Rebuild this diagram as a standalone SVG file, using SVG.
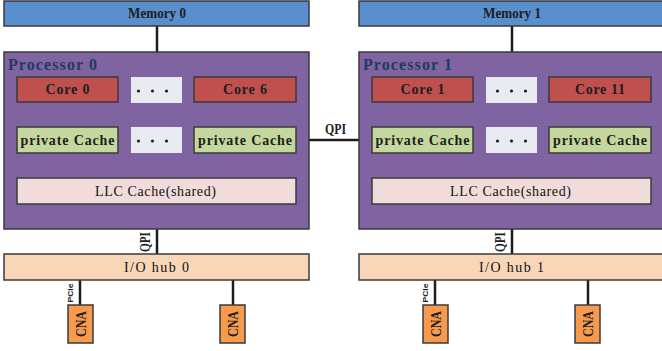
<svg xmlns="http://www.w3.org/2000/svg" width="662" height="351" viewBox="0 0 662 351">
  <style>
    .box { stroke: #3a3a3a; stroke-width: 1.5; }
    .mem { fill: #5a8fcd; }
    .proc { fill: #8064a1; }
    .core { fill: #c0504d; }
    .dots { fill: #e9ebf3; stroke: none; }
    .pc { fill: #c4d79c; }
    .llc { fill: #f2dcdb; }
    .hub { fill: #fad6b8; }
    .cna { fill: #f79a4e; }
    .lbl { font-family: "Liberation Serif", "DejaVu Serif", serif; font-size: 14px; font-weight: bold; fill: #1e1e1e; text-anchor: middle; }
    .reg { font-weight: normal; fill: #111111; }
    .ptitle { font-family: "Liberation Serif", "DejaVu Serif", serif; font-size: 16px; font-weight: bold; fill: #1f3a64; }
    .dot { fill: #1e1e1e; }
    .cnat { font-family: "Liberation Serif", "DejaVu Serif", serif; font-size: 15px; font-weight: bold; fill: #1e1e1e; text-anchor: middle; }
    .small { font-family: "Liberation Sans", "DejaVu Sans", sans-serif; font-size: 8px; font-weight: bold; fill: #1e1e1e; text-anchor: middle; }
    .link { stroke: #1c1c1c; stroke-width: 2.5; fill: none; }
  </style>

  <defs>
    <!-- three-dot ellipsis used in the placeholder boxes -->
    <g id="ellipsis">
      <circle class="dot" cx="-14" cy="0" r="1.6"/>
      <circle class="dot" cx="0" cy="0" r="1.6"/>
      <circle class="dot" cx="14" cy="0" r="1.6"/>
    </g>
  </defs>

  <rect x="0" y="0" width="662" height="351" fill="#ffffff"/>

  <!-- connectors -->
  <g id="connectors">
    <!-- node 0 -->
    <line class="link" x1="157" y1="26" x2="157" y2="52"/>
    <line class="link" x1="68" y1="102" x2="68" y2="127"/>
    <line class="link" x1="246" y1="102" x2="246" y2="127"/>
    <line class="link" x1="68" y1="153" x2="68" y2="178"/>
    <line class="link" x1="246" y1="153" x2="246" y2="178"/>
    <line class="link" x1="157" y1="229" x2="157" y2="254"/>
    <line class="link" x1="80" y1="280" x2="80" y2="305"/>
    <line class="link" x1="233" y1="280" x2="233" y2="305"/>
    <!-- node 1 -->
    <line class="link" x1="512" y1="26" x2="512" y2="52"/>
    <line class="link" x1="423" y1="102" x2="423" y2="127"/>
    <line class="link" x1="601" y1="102" x2="601" y2="127"/>
    <line class="link" x1="423" y1="153" x2="423" y2="178"/>
    <line class="link" x1="601" y1="153" x2="601" y2="178"/>
    <line class="link" x1="512" y1="229" x2="512" y2="254"/>
    <line class="link" x1="435" y1="280" x2="435" y2="305"/>
    <line class="link" x1="588" y1="280" x2="588" y2="305"/>
    <!-- QPI between processors -->
    <line class="link" x1="309" y1="140" x2="359" y2="140" stroke-width="2"/>
    <text class="lbl" x="335.5" y="134" font-size="13" textLength="21" lengthAdjust="spacingAndGlyphs">QPI</text>
    <!-- link labels -->
    <text class="lbl" font-size="13" textLength="20" lengthAdjust="spacingAndGlyphs" transform="translate(150,242) rotate(-90)">QPI</text>
    <text class="lbl" font-size="13" textLength="20" lengthAdjust="spacingAndGlyphs" transform="translate(505,242) rotate(-90)">QPI</text>
    <text class="small" textLength="19" lengthAdjust="spacingAndGlyphs" transform="translate(73,293) rotate(-90)">PCIe</text>
    <text class="small" textLength="19" lengthAdjust="spacingAndGlyphs" transform="translate(428,293) rotate(-90)">PCIe</text>
  </g>

  <!-- node 0 -->
  <g id="memory0">
    <rect class="box mem" x="4" y="1" width="305" height="25"/>
    <text class="lbl" x="157" y="18" textLength="58" lengthAdjust="spacingAndGlyphs">Memory 0</text>
  </g>
  <g id="processor0">
    <rect class="box proc" x="4" y="52" width="305" height="177"/>
    <text class="ptitle" x="8" y="70" textLength="89" lengthAdjust="spacing">Processor 0</text>
  </g>
  <g id="core0">
    <rect class="box core" x="17" y="77" width="101" height="25"/>
    <text class="lbl" x="67.5" y="94" textLength="44" lengthAdjust="spacing">Core 0</text>
  </g>
  <g id="coredots0">
    <rect class="dots" x="131" y="77" width="51" height="26"/>
    <use href="#ellipsis" x="152.5" y="91"/>
  </g>
  <g id="core6">
    <rect class="box core" x="194" y="77" width="102" height="25"/>
    <text class="lbl" x="245" y="94" textLength="44" lengthAdjust="spacing">Core 6</text>
  </g>
  <g id="cache0a">
    <rect class="box pc" x="17" y="127" width="101" height="26"/>
    <text class="lbl" x="67.5" y="144.5" textLength="94" lengthAdjust="spacing">private Cache</text>
  </g>
  <g id="cachedots0">
    <rect class="dots" x="131" y="127" width="51" height="26"/>
    <use href="#ellipsis" x="152.5" y="141"/>
  </g>
  <g id="cache0b">
    <rect class="box pc" x="194" y="127" width="102" height="26"/>
    <text class="lbl" x="245" y="144.5" textLength="94" lengthAdjust="spacing">private Cache</text>
  </g>
  <g id="llc0">
    <rect class="box llc" x="17" y="178" width="279" height="26"/>
    <text class="lbl reg" x="155.5" y="195.5" textLength="121" lengthAdjust="spacing">LLC Cache(shared)</text>
  </g>
  <g id="iohub0">
    <rect class="box hub" x="4" y="254" width="305" height="26"/>
    <text class="lbl reg" x="156.5" y="271.5" textLength="65" lengthAdjust="spacing">I/O hub 0</text>
  </g>
  <g id="cna0a">
    <rect class="box cna" x="68" y="305" width="25" height="38"/>
    <text class="cnat" textLength="26" lengthAdjust="spacingAndGlyphs" transform="translate(85.5,324) rotate(-90)">CNA</text>
  </g>
  <g id="cna0b">
    <rect class="box cna" x="220" y="305" width="25" height="38"/>
    <text class="cnat" textLength="26" lengthAdjust="spacingAndGlyphs" transform="translate(237.5,324) rotate(-90)">CNA</text>
  </g>

  <!-- node 1 -->
  <g id="memory1">
    <rect class="box mem" x="359" y="1" width="305" height="25"/>
    <text class="lbl" x="512" y="18" textLength="58" lengthAdjust="spacingAndGlyphs">Memory 1</text>
  </g>
  <g id="processor1">
    <rect class="box proc" x="359" y="52" width="305" height="177"/>
    <text class="ptitle" x="363" y="70" textLength="89" lengthAdjust="spacing">Processor 1</text>
  </g>
  <g id="core1">
    <rect class="box core" x="372" y="77" width="101" height="25"/>
    <text class="lbl" x="422.5" y="94" textLength="44" lengthAdjust="spacing">Core 1</text>
  </g>
  <g id="coredots1">
    <rect class="dots" x="486" y="77" width="51" height="26"/>
    <use href="#ellipsis" x="511.5" y="91"/>
  </g>
  <g id="core11">
    <rect class="box core" x="549" y="77" width="102" height="25"/>
    <text class="lbl" x="600" y="94" textLength="50" lengthAdjust="spacing">Core 11</text>
  </g>
  <g id="cache1a">
    <rect class="box pc" x="372" y="127" width="101" height="26"/>
    <text class="lbl" x="422.5" y="144.5" textLength="94" lengthAdjust="spacing">private Cache</text>
  </g>
  <g id="cachedots1">
    <rect class="dots" x="486" y="127" width="51" height="26"/>
    <use href="#ellipsis" x="511.5" y="141"/>
  </g>
  <g id="cache1b">
    <rect class="box pc" x="549" y="127" width="102" height="26"/>
    <text class="lbl" x="600" y="144.5" textLength="94" lengthAdjust="spacing">private Cache</text>
  </g>
  <g id="llc1">
    <rect class="box llc" x="372" y="178" width="279" height="26"/>
    <text class="lbl reg" x="510.5" y="195.5" textLength="121" lengthAdjust="spacing">LLC Cache(shared)</text>
  </g>
  <g id="iohub1">
    <rect class="box hub" x="359" y="254" width="305" height="26"/>
    <text class="lbl reg" x="511.5" y="271.5" textLength="65" lengthAdjust="spacing">I/O hub 1</text>
  </g>
  <g id="cna1a">
    <rect class="box cna" x="423" y="305" width="25" height="38"/>
    <text class="cnat" textLength="26" lengthAdjust="spacingAndGlyphs" transform="translate(440.5,324) rotate(-90)">CNA</text>
  </g>
  <g id="cna1b">
    <rect class="box cna" x="575" y="305" width="25" height="38"/>
    <text class="cnat" textLength="26" lengthAdjust="spacingAndGlyphs" transform="translate(592.5,324) rotate(-90)">CNA</text>
  </g>
</svg>
